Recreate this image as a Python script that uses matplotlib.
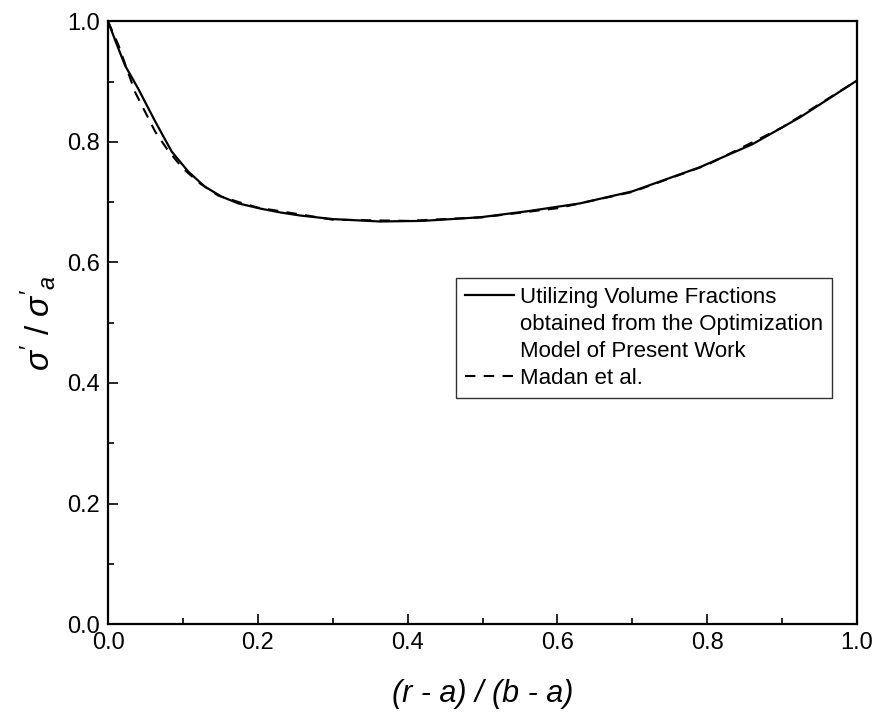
import matplotlib
matplotlib.use("Agg")
import matplotlib.pyplot as plt
from matplotlib.lines import Line2D
from matplotlib.ticker import MultipleLocator, FormatStrFormatter

plt.rcParams['font.family'] = ['Liberation Sans', 'DejaVu Sans']
plt.rcParams['mathtext.fontset'] = 'custom'
plt.rcParams['mathtext.rm'] = 'Liberation Sans'
plt.rcParams['mathtext.it'] = 'Liberation Sans:italic'

# solid curve: present work
x_present = [0, 0.011, 0.0227, 0.040, 0.063, 0.085, 0.107, 0.129, 0.152, 0.174,
             0.205, 0.23, 0.256, 0.3, 0.363, 0.42, 0.497, 0.56, 0.63, 0.7,
             0.79, 0.86, 0.924, 1.0]
y_present = [1.0, 0.964, 0.927, 0.889, 0.834, 0.784, 0.751, 0.726, 0.709, 0.698,
             0.689, 0.683, 0.678, 0.672, 0.668, 0.669, 0.675, 0.685, 0.698, 0.718,
             0.758, 0.796, 0.841, 0.902]

# dashed curve: Madan et al.
x_madan = [0, 0.0138, 0.036, 0.063, 0.080, 0.100, 0.123, 0.147, 0.175, 0.2,
           0.3, 0.4, 0.5, 0.6, 0.7, 0.8, 0.9, 1.0]
y_madan = [1.0, 0.961, 0.883, 0.817, 0.786, 0.756, 0.731, 0.711, 0.700, 0.691,
           0.671, 0.669, 0.675, 0.690, 0.717, 0.762, 0.824, 0.902]

label_present = ["Utilizing Volume Fractions",
                 "obtained from the Optimization",
                 "Model of Present Work"]
label_madan = "Madan et al."

fig = plt.figure(figsize=(8.79, 7.14), dpi=100)
ax = fig.add_axes([0.1229, 0.126, 0.8521, 0.844])

ax.plot(x_present, y_present, color='black', lw=1.6)
ax.plot(x_madan, y_madan, color='black', lw=1.5, linestyle=(0, (5, 4)))

ax.set_xlim(0, 1.0)
ax.set_ylim(0, 1.0)
ax.xaxis.set_major_locator(MultipleLocator(0.2))
ax.xaxis.set_minor_locator(MultipleLocator(0.1))
ax.yaxis.set_major_locator(MultipleLocator(0.2))
ax.yaxis.set_minor_locator(MultipleLocator(0.1))
ax.xaxis.set_major_formatter(FormatStrFormatter('%.1f'))
ax.yaxis.set_major_formatter(FormatStrFormatter('%.1f'))
ax.tick_params(which='both', direction='in', top=False, right=False,
               labelsize=17, width=1.2)
ax.tick_params(which='major', length=7.5, pad=6)
ax.tick_params(which='minor', length=4)
for sp in ax.spines.values():
    sp.set_linewidth(1.6)

ax.set_xlabel("(r - a) / (b - a)", fontsize=22, style='italic', labelpad=18)
ax.set_ylabel(r"$\sigma' \ / \ \sigma'_{a}$", fontsize=24, labelpad=6)

# legend: first entry split into lines so the handle sits at the top line
handles = [Line2D([], [], color='black', lw=1.6),
           Line2D([], [], color='none'),
           Line2D([], [], color='none'),
           Line2D([], [], color='black', lw=1.5, linestyle=(0, (5, 4)))]
labels = label_present + [label_madan]
leg = ax.legend(handles, labels, loc='upper left', bbox_to_anchor=(0.4646, 0.5738),
                borderaxespad=0, fontsize=16, frameon=True, fancybox=False,
                handlelength=2.2, handletextpad=0.3, labelspacing=0.27,
                borderpad=0.4)
leg.get_frame().set_edgecolor('black')
leg.get_frame().set_linewidth(1.0)

fig.savefig("out.png", dpi=100)
